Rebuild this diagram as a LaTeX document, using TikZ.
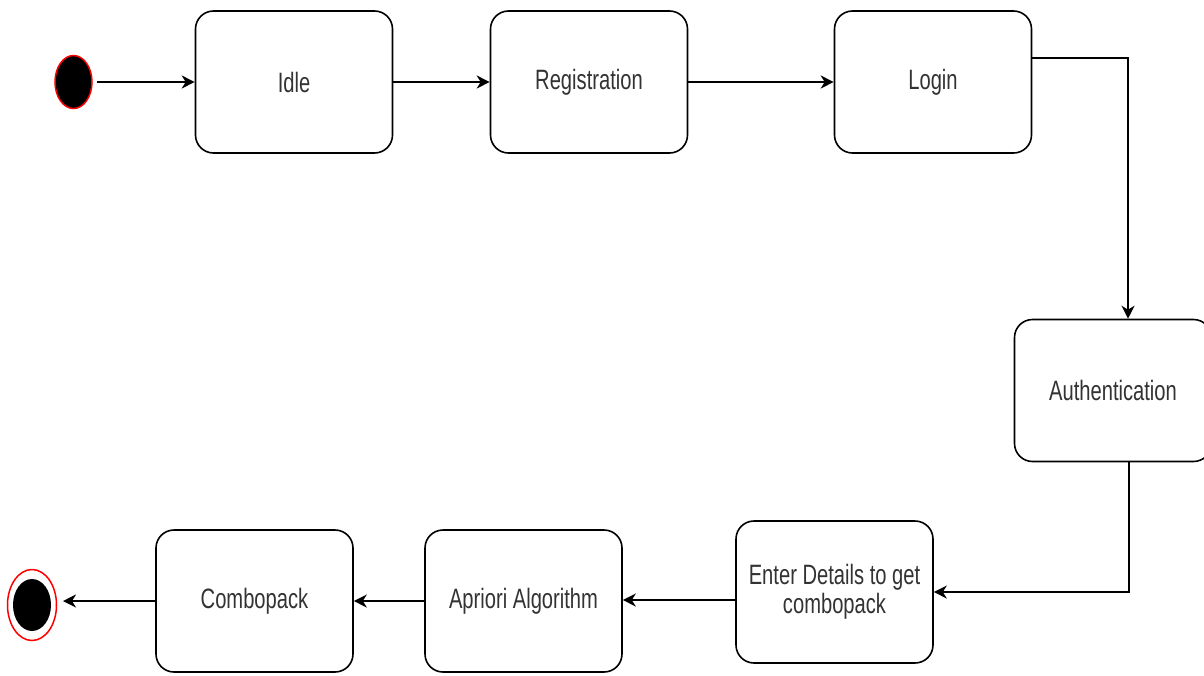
\documentclass[tikz,border=0pt]{standalone}
\usepackage{fontspec}
\setmainfont{Liberation Sans}
\usetikzlibrary{shapes.geometric,arrows.meta}
\definecolor{txt}{HTML}{333333}
\definecolor{ring}{HTML}{FF0000}
\tikzset{
  state/.style={draw=black, line width=1.6pt, rounded corners=18pt, fill=white,
    minimum width=197pt, minimum height=142pt, inner sep=0pt, text=txt,
    align=center, font=\fontsize{28}{31}\selectfont},
  conn/.style={draw=black, line width=1.6pt, -{Stealth[length=13pt,width=13pt,inset=4pt]}},
}
\newcommand{\lbl}[1]{\scalebox{0.72}[1]{#1}}
\begin{document}
\begin{tikzpicture}[x=1pt,y=-1pt]
\useasboundingbox (0,0) rectangle (1204,675);
% start
\node[ellipse, draw=ring, fill=black, line width=1.5pt, minimum width=37pt, minimum height=53pt, inner sep=0pt] (start) at (73.5,82) {};
% states
\node[state] (idle) at (294,82) {\lbl{Idle}};
\node[state] (reg) at (589,82) {\lbl{Registration}};
\node[state] (login) at (933,82) {\lbl{Login}};
\node[state] (auth) at (1113,390.5) {\lbl{Authentication}};
\node[state] (enter) at (834.5,592) {\lbl{Enter Details to get}\\[-2pt]\lbl{combopack}};
\node[state] (apriori) at (523.5,601) {\lbl{Apriori Algorithm}};
\node[state] (combo) at (254.5,601) {\lbl{Combopack}};
% end
\node[ellipse, draw=ring, fill=white, line width=1.5pt, minimum width=49pt, minimum height=71pt, inner sep=0pt] (endo) at (32,605) {};
\node[ellipse, fill=black, minimum width=38pt, minimum height=52pt, inner sep=0pt] (endi) at (endo.center) {};
% connectors
\coordinate (c1) at (1128,58);
\coordinate (c2) at (1129,592);
\coordinate (s0) at (97,82);
\coordinate (e0) at (63,601);
\draw[conn] (s0) -- (idle.west);
\draw[conn] (idle.east) -- (reg.west);
\draw[conn] (reg.east) -- (login.west);
\draw[conn] (login.east |- c1) -- (c1) -- (c1 |- auth.north);
\draw[conn] (c2 |- auth.south) -- (c2) -- (enter.east |- c2);
\draw[conn] (enter.west |- 0,600) -- (apriori.east |- 0,600);
\draw[conn] (apriori.west) -- (combo.east);
\draw[conn] (combo.west) -- (e0 |- combo.west);
\end{tikzpicture}
\end{document}
